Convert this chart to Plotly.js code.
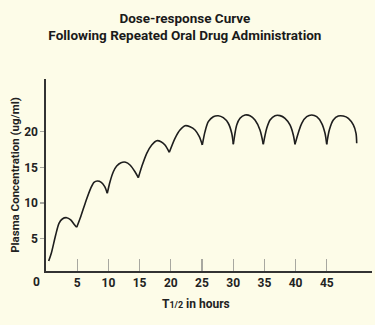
<!DOCTYPE html>
<html>
<head>
<meta charset="utf-8">
<script src="https://cdn.plot.ly/plotly-3.0.1.min.js"></script>
<style>
html,body{margin:0;padding:0;background:#fdfce8;}
#chart{width:375px;height:325px;}
</style>
</head>
<body>
<div id="chart"></div>
<script>
// Time (in half-lives, hours)
const timeHours = [0.43,0.85,1.55,2.08,2.61,3.32,3.96,4.60,4.92,
  5.56,6.36,7.16,7.69,8.22,8.86,9.41,9.82,
  10.26,10.79,11.33,12.02,12.77,13.46,14.26,14.79,
  15.34,16.14,16.94,17.74,18.43,19.07,19.76,
  20.67,21.47,22.28,23.08,23.88,24.57,25.05,
  25.48,26.01,26.81,27.61,28.41,29.21,29.76,30.02,
  30.56,31.09,31.89,32.69,33.49,34.29,34.82,
  35.37,35.90,36.70,37.50,38.30,39.10,39.63,39.90,
  40.98,41.78,42.58,43.38,44.18,44.71,44.98,
  45.40,46.04,46.84,47.64,48.45,49.25,49.68,49.79];
// Plasma concentration (ug/ml)
const concentration = [1.85,2.94,5.51,7.15,7.76,7.94,7.62,6.91,6.59,
  8.08,10.19,12.07,12.91,13.10,12.91,12.30,11.37,
  13.00,14.40,15.21,15.67,15.73,15.35,14.40,13.56,
  15.11,16.99,18.16,18.76,18.62,18.16,17.13,
  19.10,20.27,20.87,20.73,20.27,19.32,18.16,
  20.03,21.43,22.13,22.27,21.99,21.21,19.80,18.26,
  20.97,21.91,22.37,22.28,21.67,20.27,18.26,
  20.50,21.67,22.28,22.28,21.91,20.97,19.56,18.26,
  21.21,22.13,22.37,22.13,21.21,19.80,18.26,
  20.27,21.67,22.23,22.23,21.91,20.97,19.80,18.40];

const xTickVals = [5,10,15,20,25,30,35,40,45];
const xTickText = ["5","10","15","20","25","30","35","40","45"];
const yTickVals = [5,10,15,20];
const yTickText = ["5","10","15","20"];
const originLabel = "0";

const titleText = "Dose-response Curve<br>Following Repeated Oral Drug Administration";
const xTitleText = "T<span style=\"font-size:9px\">1/2</span> in hours";
const yTitleText = "Plasma Concentration (ug/ml)";

// split the curve at each trough so every dose keeps its sharp cusp
const traces = [];
let start = 0;
for (let i = 1; i < concentration.length; i++) {
  const isTrough = i < concentration.length - 1 &&
    concentration[i] < concentration[i-1] && concentration[i] < concentration[i+1];
  if (isTrough || i === concentration.length - 1) {
    traces.push({
      x: timeHours.slice(start, i + 1),
      y: concentration.slice(start, i + 1),
      type: 'scatter', mode: 'lines',
      line: {color: '#1e1e1e', width: 1.6, shape: 'spline', smoothing: 0.8},
      hoverinfo: 'x+y', showlegend: false
    });
    start = i;
  }
}

const FONT = 'Roboto, "Liberation Sans", Arial, sans-serif';
const BG = '#fdfce8';

const layout = {
  width: 375, height: 325,
  paper_bgcolor: BG, plot_bgcolor: BG,
  margin: {l: 46, r: 3, t: 79, b: 54},
  font: {family: FONT, color: '#222'},
  title: {
    text: titleText,
    font: {family: FONT, size: 13.5, color: '#1a1a1a', weight: 'bold'},
    x: 0.493, xref: 'container', xanchor: 'center',
    y: 0.93, yref: 'container', yanchor: 'top'
  },
  xaxis: {
    range: [0, 52.24],
    tickmode: 'array', tickvals: xTickVals, ticktext: xTickText,
    ticks: 'inside', ticklen: 12, tickwidth: 1.2, tickcolor: '#a8a8a0',
    showline: true, linecolor: '#333', linewidth: 1.6,
    showgrid: false, zeroline: false,
    tickfont: {family: FONT, size: 12, color: '#222', weight: 'bold'},
    fixedrange: true
  },
  yaxis: {
    range: [0.45, 27.43],
    tickmode: 'array', tickvals: yTickVals, ticktext: yTickText,
    ticks: 'outside', ticklen: 4, tickwidth: 1.2, tickcolor: '#a8a8a0',
    showline: true, linecolor: '#333', linewidth: 1.6,
    showgrid: false, zeroline: false,
    tickfont: {family: FONT, size: 12, color: '#222', weight: 'bold'},
    title: {text: yTitleText, font: {family: FONT, size: 11.5, color: '#222', weight: 'bold'}, standoff: 2},
    fixedrange: true
  },
  annotations: [
    {text: originLabel, xref: 'paper', yref: 'paper', x: 0, y: 0,
     xanchor: 'center', yanchor: 'middle', xshift: -10, yshift: -11,
     showarrow: false, font: {family: FONT, size: 12, color: '#222', weight: 'bold'}},
    {text: xTitleText, xref: 'paper', yref: 'paper', x: 0.46, y: 0,
     xanchor: 'center', yanchor: 'middle', yshift: -33,
     showarrow: false, font: {family: FONT, size: 12, color: '#222', weight: 'bold'}}
  ]
};

Plotly.newPlot('chart', traces, layout, {displayModeBar: false, staticPlot: true});
</script>
</body>
</html>
